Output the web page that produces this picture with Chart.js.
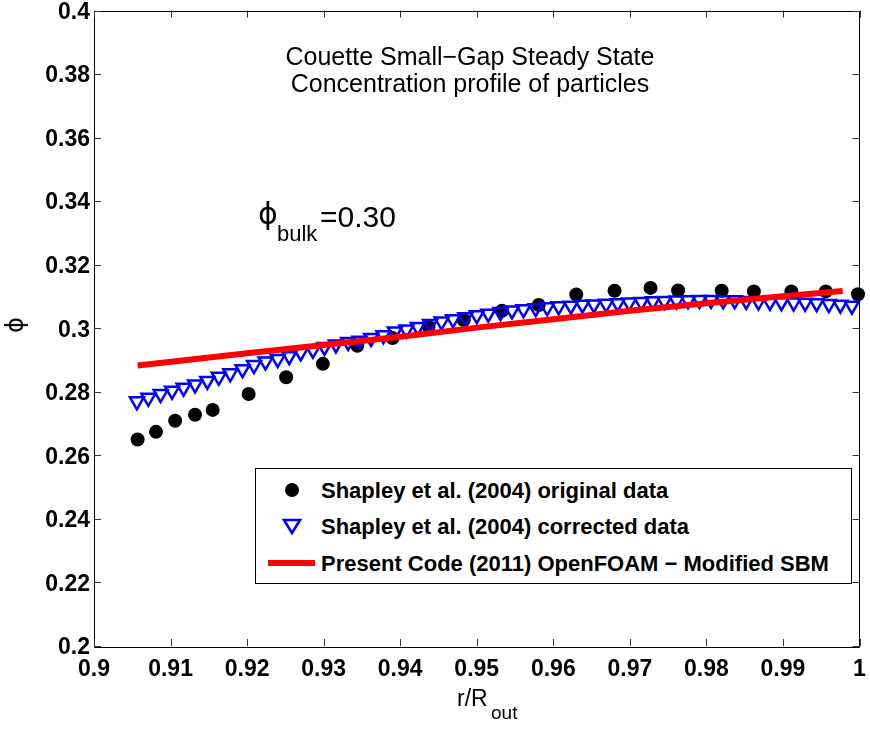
<!DOCTYPE html>
<html>
<head>
<meta charset="utf-8">
<script src="https://cdn.jsdelivr.net/npm/chart.js@4.4.1/dist/chart.umd.min.js"></script>
<style>
  html, body { margin: 0; padding: 0; background: #fff; }
  #wrap { position: relative; width: 870px; height: 731px; overflow: hidden; font-family: "Liberation Sans", Arial, sans-serif; color: #000; }
  #c { position: absolute; left: 0; top: 0; }
  .t { position: absolute; white-space: nowrap; line-height: 1; }
  .title { font-size: 25px; left: 0; width: 940px; text-align: center; }
  .phi { font-family: "DejaVu Sans", sans-serif; }
  #legend { position: absolute; left: 255px; top: 468px; width: 595px; height: 114px; border: 1px solid #000; background: #fff; }
  .lt { position: absolute; left: 65px; font-size: 22px; font-weight: bold; line-height: 1; white-space: nowrap; }
</style>
</head>
<body>
<div id="wrap">
  <canvas id="c" width="870" height="731"></canvas>
  <div class="t title" style="top:44px;">Couette Small−Gap Steady State</div>
  <div class="t title" style="top:71px;">Concentration profile of particles</div>
  <div class="t phi" style="left:258px; top:199px; font-size:30px;">ϕ</div>
  <div class="t" style="left:277px; top:223px; font-size:22px;">bulk</div>
  <div class="t" style="left:320px; top:202px; font-size:30px;">=0.30</div>
  <div class="t phi" style="left:7px; top:313px; font-size:24px; transform: rotate(-90deg); transform-origin: 50% 50%;">ϕ</div>
  <div class="t" style="left:457px; top:687px; font-size:23px;">r/R</div>
  <div class="t" style="left:491px; top:703px; font-size:19px;">out</div>
  <div id="legend">
    <div style="position:absolute; left:29px; top:14px; width:14px; height:14px; border-radius:50%; background:#000;"></div>
    <div class="lt" style="top:11px;">Shapley et al. (2004) original data</div>
    <svg style="position:absolute; left:26px; top:49px;" width="20" height="18"><polygon points="2,2 18,2 10,15" fill="none" stroke="#0000ff" stroke-width="2.5"/></svg>
    <div class="lt" style="top:47px;">Shapley et al. (2004) corrected data</div>
    <div style="position:absolute; left:12px; top:91px; width:47px; height:6px; background:#ff0000;"></div>
    <div class="lt" style="top:84px;">Present Code (2011) OpenFOAM − Modified SBM</div>
  </div>
</div>
<script>
// ---- data ----
const origX = [0.9057,0.9081,0.9106,0.9132,0.9155,0.9202,0.9251,0.9299,0.9344,0.9390,0.9437,0.9483,0.9533,0.9581,0.9630,0.9680,0.9727,0.9763,0.9820,0.9862,0.9911,0.9956,0.9998];
const origY = [0.2650,0.2674,0.2709,0.2728,0.2743,0.2793,0.2846,0.2888,0.2945,0.2969,0.3005,0.3026,0.3055,0.3073,0.3106,0.3118,0.3127,0.3119,0.3118,0.3116,0.3116,0.3116,0.3107];

const corrX = [0.9056,0.9071,0.9087,0.9102,0.9117,0.9132,0.9148,0.9163,0.9178,0.9194,
               0.9209,0.9224,0.9240,0.9255,0.9270,0.9286,0.9301,0.9316,0.9332,0.9347,
               0.9362,0.9378,0.9393,0.9408,0.9423,0.9439,0.9454,0.9469,0.9485,0.9500,
               0.9515,0.9531,0.9546,0.9561,0.9577,0.9592,0.9607,0.9623,0.9638,0.9653,
               0.9669,0.9684,0.9699,0.9715,0.9730,0.9745,0.9761,0.9776,0.9791,0.9806,
               0.9822,0.9837,0.9852,0.9868,0.9883,0.9898,0.9914,0.9929,0.9944,0.9960,
               0.9975,0.9990];
const corrY = [0.2770,0.2781,0.2793,0.2803,0.2813,0.2823,0.2834,0.2847,0.2858,0.2871,
               0.2884,0.2895,0.2903,0.2912,0.2924,0.2932,0.2941,0.2949,0.2957,0.2961,
               0.2969,0.2978,0.2990,0.2996,0.3004,0.3013,0.3021,0.3028,0.3035,0.3041,
               0.3046,0.3051,0.3056,0.3060,0.3063,0.3066,0.3069,0.3071,0.3074,0.3075,
               0.3077,0.3079,0.3081,0.3083,0.3085,0.3086,0.3087,0.3088,0.3089,0.3089,
               0.3088,0.3088,0.3086,0.3084,0.3083,0.3082,0.3081,0.3080,0.3079,0.3076,
               0.3074,0.3071];

const simX = [0.9057,0.92,0.93,0.94,0.95,0.96,0.97,0.98,0.99,0.9978];
const simY = [0.2883,0.2921,0.2947,0.2973,0.3002,0.3028,0.3055,0.3079,0.3101,0.3117];

const xTickVals = [0.9,0.91,0.92,0.93,0.94,0.95,0.96,0.97,0.98,0.99,1.0];
const xTickLabels = ['0.9','0.91','0.92','0.93','0.94','0.95','0.96','0.97','0.98','0.99','1'];
const yTickVals = [0.2,0.22,0.24,0.26,0.28,0.3,0.32,0.34,0.36,0.38,0.4];
const yTickLabels = ['0.2','0.22','0.24','0.26','0.28','0.3','0.32','0.34','0.36','0.38','0.4'];

const pts = (xs, ys) => xs.map((x, i) => ({x: x, y: ys[i]}));

const boxPlugin = {
  id: 'matlabBox',
  afterDraw(chart) {
    const ctx = chart.ctx, a = chart.chartArea;
    const xs = chart.scales.x, ys = chart.scales.y;
    const L = 7;
    ctx.save();
    ctx.strokeStyle = '#000';
    ctx.lineWidth = 1;
    ctx.beginPath();
    ctx.rect(Math.round(a.left) + 0.5, Math.round(a.top) + 0.5, Math.round(a.right - a.left) - 1, Math.round(a.bottom - a.top));
    ctx.stroke();
    ctx.strokeStyle = '#333';
    ctx.beginPath();
    xs.ticks.forEach(t => {
      const px = Math.round(xs.getPixelForValue(t.value)) + 0.5;
      ctx.moveTo(px, a.bottom); ctx.lineTo(px, a.bottom - L);
      ctx.moveTo(px, a.top); ctx.lineTo(px, a.top + L);
    });
    ys.ticks.forEach(t => {
      const py = Math.round(ys.getPixelForValue(t.value)) + 0.5;
      ctx.moveTo(a.left, py); ctx.lineTo(a.left + L, py);
      ctx.moveTo(a.right, py); ctx.lineTo(a.right - L, py);
    });
    ctx.stroke();
    ctx.restore();
  }
};

const tickFont = { family: '"Liberation Sans", Arial, sans-serif', size: 23, weight: 'bold' };

new Chart(document.getElementById('c'), {
  type: 'scatter',
  data: {
    datasets: [
      { label: 'Present Code (2011) OpenFOAM - Modified SBM', data: pts(simX, simY), showLine: true,
        borderColor: '#ff0000', borderWidth: 6, pointRadius: 0, fill: false, order: 0, tension: 0 },
      { label: 'Shapley et al. (2004) corrected data', data: pts(corrX, corrY), showLine: false,
        pointStyle: 'triangle', rotation: 180, pointRadius: 8, borderColor: '#0000ff', borderWidth: 2.5,
        backgroundColor: 'rgba(0,0,0,0)', order: 1, clip: false },
      { label: 'Shapley et al. (2004) original data', data: pts(origX, origY), showLine: false,
        pointStyle: 'circle', pointRadius: 7, borderWidth: 0, backgroundColor: '#000', order: 2, clip: false }
    ]
  },
  options: {
    responsive: false,
    animation: false,
    devicePixelRatio: 1,
    layout: { padding: { top: 10, right: 3, left: 0, bottom: 0 } },
    plugins: { legend: { display: false }, tooltip: { enabled: false }, title: { display: false } },
    scales: {
      x: {
        type: 'linear', min: 0.9, max: 1.0,
        grid: { display: false, drawTicks: false },
        border: { display: false },
        afterBuildTicks: s => { s.ticks = xTickVals.map(v => ({ value: v })); },
        afterFit: s => { s.height = 85; s.paddingLeft = 0; s.paddingRight = 0; },
        ticks: { font: tickFont, color: '#000', padding: 10, maxRotation: 0, autoSkip: false,
                 callback: (v, i) => xTickLabels[i] }
      },
      y: {
        type: 'linear', min: 0.2, max: 0.4,
        grid: { display: false, drawTicks: false },
        border: { display: false },
        afterBuildTicks: s => { s.ticks = yTickVals.map(v => ({ value: v })); },
        afterFit: s => { s.width = 94; s.paddingTop = 0; s.paddingBottom = 0; },
        ticks: { font: tickFont, color: '#000', padding: 4, labelOffset: 2, autoSkip: false,
                 callback: (v, i) => yTickLabels[i] }
      }
    }
  },
  plugins: [boxPlugin]
});
</script>
</body>
</html>
